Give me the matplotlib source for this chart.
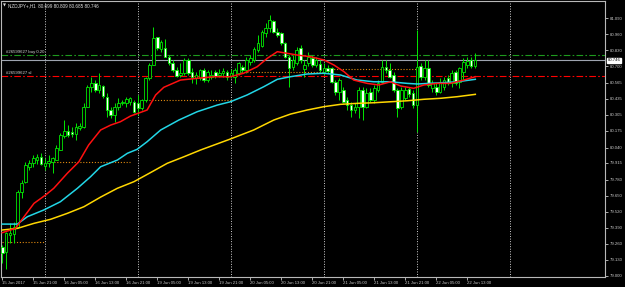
import matplotlib
matplotlib.use("Agg")
import matplotlib.pyplot as plt
from matplotlib.patches import Rectangle
import matplotlib.transforms as mtransforms

# ---------------- data (NZDJPY+, H1) ----------------
opens = [79.235, 79.195, 79.330, 79.340, 79.397, 79.681, 79.762, 79.884, 79.912, 79.938,
         79.960, 79.890, 79.917, 79.925, 79.938, 80.020, 80.133, 80.176, 80.168, 80.149,
         80.196, 80.209, 80.371, 80.533, 80.560, 80.506, 80.539, 80.452, 80.344, 80.303,
         80.371, 80.398, 80.398, 80.411, 80.411, 80.398, 80.358, 80.425, 80.601, 80.709,
         80.933, 80.836, 80.844, 80.776, 80.723, 80.668, 80.628, 80.641, 80.750, 80.655,
         80.601, 80.601, 80.668, 80.587, 80.614, 80.650, 80.628, 80.642, 80.655, 80.620,
         80.614, 80.641, 80.695, 80.668, 80.736, 80.750, 80.831, 80.863, 80.966, 81.006,
         81.068, 80.979, 80.966, 80.885, 80.776, 80.693, 80.723, 80.844, 80.674, 80.723,
         80.763, 80.709, 80.715, 80.655, 80.682, 80.682, 80.574, 80.492, 80.506, 80.425,
         80.384, 80.344, 80.371, 80.506, 80.371, 80.492, 80.425, 80.506, 80.574, 80.695,
         80.668, 80.628, 80.506, 80.371, 80.439, 80.512, 80.479, 80.384, 80.701, 80.614,
         80.682, 80.520, 80.533, 80.492, 80.533, 80.601, 80.560, 80.655, 80.574, 80.652,
         80.709, 80.750, 80.699]
highs = [79.249, 79.357, 79.427, 79.438, 79.695, 79.776, 79.922, 79.938, 79.979, 79.987,
         79.993, 79.955, 79.979, 79.965, 80.060, 80.157, 80.263, 80.222, 80.209, 80.236,
         80.236, 80.398, 80.547, 80.614, 80.587, 80.641, 80.547, 80.479, 80.371, 80.398,
         80.439, 80.425, 80.452, 80.452, 80.425, 80.465, 80.431, 80.614, 80.723, 81.019,
         80.938, 80.912, 80.917, 80.790, 80.750, 80.695, 80.723, 80.763, 80.763, 80.682,
         80.655, 80.674, 80.682, 80.668, 80.668, 80.668, 80.674, 80.682, 80.668, 80.676,
         80.682, 80.736, 80.709, 80.776, 80.790, 80.852, 80.952, 80.993, 81.047, 81.114,
         81.074, 81.006, 80.979, 80.898, 80.790, 80.790, 80.857, 80.871, 80.750, 80.814,
         80.790, 80.776, 80.750, 80.723, 80.709, 80.695, 80.587, 80.601, 80.533, 80.452,
         80.411, 80.398, 80.533, 80.533, 80.520, 80.520, 80.547, 80.587, 80.750, 80.750,
         80.723, 80.655, 80.520, 80.533, 80.533, 80.533, 80.506, 80.993, 80.723, 80.750,
         80.750, 80.587, 80.560, 80.601, 80.614, 80.628, 80.668, 80.668, 80.695, 80.766,
         80.774, 80.774, 80.809]
lows = [79.103, 79.052, 79.265, 79.263, 79.387, 79.628, 79.752, 79.857, 79.884, 79.906,
        79.898, 79.857, 79.884, 79.831, 79.938, 80.020, 80.114, 80.127, 80.127, 80.101,
        80.182, 80.196, 80.371, 80.492, 80.492, 80.479, 80.439, 80.290, 80.277, 80.249,
        80.344, 80.384, 80.371, 80.384, 80.317, 80.303, 80.344, 80.411, 80.587, 80.709,
        80.831, 80.817, 80.771, 80.709, 80.655, 80.614, 80.614, 80.628, 80.628, 80.560,
        80.555, 80.587, 80.573, 80.573, 80.593, 80.601, 80.614, 80.614, 80.587, 80.603,
        80.560, 80.628, 80.655, 80.641, 80.709, 80.736, 80.817, 80.857, 80.938, 80.979,
        80.966, 80.938, 80.871, 80.763, 80.533, 80.668, 80.709, 80.723, 80.614, 80.701,
        80.695, 80.695, 80.655, 80.628, 80.641, 80.560, 80.465, 80.425, 80.398, 80.344,
        80.290, 80.317, 80.279, 80.263, 80.358, 80.411, 80.398, 80.492, 80.560, 80.641,
        80.601, 80.492, 80.290, 80.350, 80.425, 80.452, 80.358, 80.168, 80.587, 80.587,
        80.533, 80.492, 80.465, 80.479, 80.506, 80.547, 80.533, 80.547, 80.520, 80.587,
        80.685, 80.682, 80.685]
closes = [79.187, 79.344, 79.350, 79.397, 79.681, 79.754, 79.895, 79.912, 79.952, 79.965,
          79.906, 79.912, 79.930, 79.952, 80.033, 80.141, 80.174, 80.141, 80.149, 80.209,
          80.214, 80.371, 80.533, 80.560, 80.506, 80.547, 80.457, 80.344, 80.303, 80.371,
          80.398, 80.411, 80.431, 80.439, 80.330, 80.358, 80.425, 80.601, 80.709, 80.925,
          80.844, 80.898, 80.776, 80.723, 80.668, 80.619, 80.646, 80.750, 80.646, 80.614,
          80.628, 80.668, 80.587, 80.655, 80.628, 80.620, 80.646, 80.660, 80.614, 80.642,
          80.668, 80.723, 80.668, 80.750, 80.763, 80.836, 80.885, 80.979, 81.006, 81.074,
          80.979, 80.952, 80.885, 80.776, 80.682, 80.750, 80.831, 80.750, 80.709, 80.776,
          80.709, 80.750, 80.668, 80.682, 80.660, 80.574, 80.492, 80.587, 80.411, 80.384,
          80.344, 80.371, 80.506, 80.371, 80.479, 80.425, 80.520, 80.560, 80.695, 80.668,
          80.614, 80.506, 80.358, 80.506, 80.506, 80.474, 80.384, 80.695, 80.614, 80.682,
          80.547, 80.560, 80.492, 80.560, 80.587, 80.574, 80.641, 80.560, 80.682, 80.736,
          80.741, 80.701, 80.746]

# moving averages read at selected bars
red_bars = [0, 3.4, 8.2, 11.2, 13.3, 16.8, 19.8, 22.3, 25.4, 28, 30.5, 33.1, 37.4, 39.6,
            41.7, 46, 50.3, 54.6, 58.9, 62.3, 65.8, 68.4, 71, 73.5, 76.1, 79.6, 83, 85.6,
            88.2, 90.7, 94.2, 97.2, 100.2, 102.8, 106.2, 108.8, 112.3, 115.7, 119.1, 122.1]
red_vals = [79.349, 79.384, 79.587, 79.655, 79.709, 79.831, 79.925, 80.060, 80.182, 80.222,
            80.249, 80.295, 80.344, 80.466, 80.528, 80.587, 80.601, 80.614, 80.614, 80.642,
            80.695, 80.763, 80.817, 80.804, 80.790, 80.776, 80.750, 80.709, 80.655, 80.587,
            80.560, 80.547, 80.573, 80.539, 80.520, 80.547, 80.560, 80.560, 80.587, 80.614]
cyan_bars = [0, 3.9, 6.5, 10.7, 15, 19.4, 22.8, 25.4, 29.7, 32.3, 34.8, 37.4, 40.9, 45.6,
             50.3, 55.5, 58.9, 63.2, 67.5, 71, 74.4, 78.7, 83, 87.3, 91.6, 95.9, 100.2,
             104.5, 107.1, 113.1, 117.4, 122.1]
cyan_vals = [79.419, 79.419, 79.479, 79.533, 79.600, 79.709, 79.803, 79.884, 79.938, 79.993,
             80.025, 80.087, 80.182, 80.263, 80.330, 80.384, 80.411, 80.466, 80.533, 80.593,
             80.614, 80.636, 80.642, 80.628, 80.587, 80.573, 80.573, 80.560, 80.555, 80.565,
             80.573, 80.593]
yellow_bars = [0, 3.9, 8.2, 12.5, 16.8, 21.1, 25.4, 29.7, 34, 38.3, 42.6, 46.9, 51.2, 58.9,
               64.9, 70.1, 74.4, 78.7, 83, 87.3, 91.6, 95.9, 100.2, 104.5, 108.8, 113.1,
               117.4, 122.1]
yellow_vals = [79.371, 79.384, 79.425, 79.458, 79.506, 79.560, 79.638, 79.709, 79.763, 79.837,
               79.912, 79.965, 80.020, 80.109, 80.182, 80.263, 80.311, 80.344, 80.371, 80.390,
               80.398, 80.403, 80.411, 80.419, 80.431, 80.439, 80.452, 80.471]

# daily orange dotted levels: (start bar, end bar, price)
level_start = [0, 12.5, 37, 61.5, 83.2]
level_end = [11, 33, 59, 83, 107]
level_price = [79.273, 79.920, 80.425, 80.650, 80.675]

day_separators = [11, 35, 59, 83, 107, 131]

ytick_vals = [81.090, 80.960, 80.830, 80.700, 80.565, 80.435, 80.305, 80.175, 80.040,
              79.915, 79.780, 79.650, 79.520, 79.390, 79.260, 79.130, 79.000]
xtick_bars = list(range(0, 121, 8))
xtick_labels = ["15 Jun 2017", "15 Jun 21:00", "16 Jun 05:00", "16 Jun 13:00", "16 Jun 21:00",
                "19 Jun 05:00", "19 Jun 13:00", "19 Jun 21:00", "20 Jun 05:00", "20 Jun 13:00",
                "20 Jun 21:00", "21 Jun 05:00", "21 Jun 13:00", "21 Jun 21:00", "22 Jun 05:00",
                "22 Jun 13:00"]

bid = 80.746
buy_price = 80.790
sl_price = 80.617
header = "NZDJPY+,H1  80.699 80.809 80.685 80.746"

# ---------------- figure ----------------
W, H = 625, 287
FONT = ["Liberation Sans", "DejaVu Sans"]
fig = plt.figure(figsize=(W / 100, H / 100), dpi=100, facecolor="black")
ax = fig.add_axes([1 / W, (H - 277) / H, 604 / W, 276 / H])
ax.set_facecolor("black")

px_per_bar = 3.875
x0 = 2.2
ax.set_xlim((1 - x0) / px_per_bar, (605 - x0) / px_per_bar)
ax.set_ylim(78.990, 81.228)

lime = "#00e800"
for i in range(len(opens)):
    o, h, l, c = opens[i], highs[i], lows[i], closes[i]
    ax.vlines(i, l, h, color=lime, lw=0.7, zorder=3)
    bottom = min(o, c)
    height = max(abs(c - o), 0.002)
    face = "black" if c >= o else "white"
    ax.add_patch(Rectangle((i - 0.34, bottom), 0.68, height, facecolor=face,
                           edgecolor=lime, lw=0.6, zorder=4))

ax.plot(yellow_bars, yellow_vals, color="#ffd700", lw=1.1, zorder=5)
ax.plot(cyan_bars, cyan_vals, color="#22d6e6", lw=1.1, zorder=5)
ax.plot(red_bars, red_vals, color="#ff1010", lw=1.1, zorder=5)

ax.hlines(level_price, level_start, level_end, colors="#e08a10", lw=0.8,
          linestyles=(0, (1, 1.6)), zorder=2)

for d in day_separators:
    ax.axvline(d, color="#d0d0d0", lw=0.7, ls=(0, (1, 1.6)), zorder=1)

ax.axhline(bid, color="#9ea4b0", lw=0.8, zorder=2)
ax.axhline(buy_price, color="#1e9a1e", lw=0.8, ls=(0, (6, 2, 1.5, 2)), zorder=2)
ax.axhline(sl_price, color="#ff0000", lw=0.8, ls=(0, (6, 2, 1.5, 2)), zorder=2)

ax.text(1.0, buy_price + 0.028, "#26599627 buy 0.20", fontsize=3.1, color="#d8d8d8",
        va="center", ha="left", family=FONT, zorder=6)
ax.text(1.0, sl_price + 0.031, "#26599627 sl", fontsize=3.1, color="#d8d8d8",
        va="center", ha="left", family=FONT, zorder=6)

# axes styling
for s in ax.spines.values():
    s.set_color("#b8b8b8")
    s.set_linewidth(0.8)
ax.yaxis.tick_right()
ax.set_yticks(ytick_vals)
ax.set_yticklabels([f"{v:.3f}" for v in ytick_vals])
ax.tick_params(axis="y", colors="#c8c8c8", length=2, width=0.6, pad=1.5, labelsize=3.1)
ax.set_xticks(xtick_bars)
ax.set_xticklabels(xtick_labels)
ax.tick_params(axis="x", colors="#c8c8c8", length=2, width=0.6, pad=1.2, labelsize=3.1)
for lab in ax.get_xticklabels():
    lab.set_horizontalalignment("left")
    lab.set_family(FONT)
for lab in ax.get_yticklabels():
    lab.set_family(FONT)

# current price box on the right scale
trans = mtransforms.blended_transform_factory(ax.transAxes, ax.transData)
ax.text(1.004, bid, f"{bid:.3f}", transform=trans, fontsize=3.1, color="black",
        va="center", ha="left", family=FONT, zorder=7, clip_on=False,
        bbox=dict(boxstyle="square,pad=0.15", facecolor="white", edgecolor="white"))

# header
fig.text(2.5 / W, 1 - 5.5 / H, "▼", fontsize=2.8, color="#e0e0e0", va="center",
         ha="left", family=["DejaVu Sans"])
fig.text(8 / W, 1 - 5.5 / H, header, fontsize=3.3, color="#e0e0e0", va="center",
         ha="left", family=FONT)

fig.savefig("out.png", dpi=100, facecolor="black")
